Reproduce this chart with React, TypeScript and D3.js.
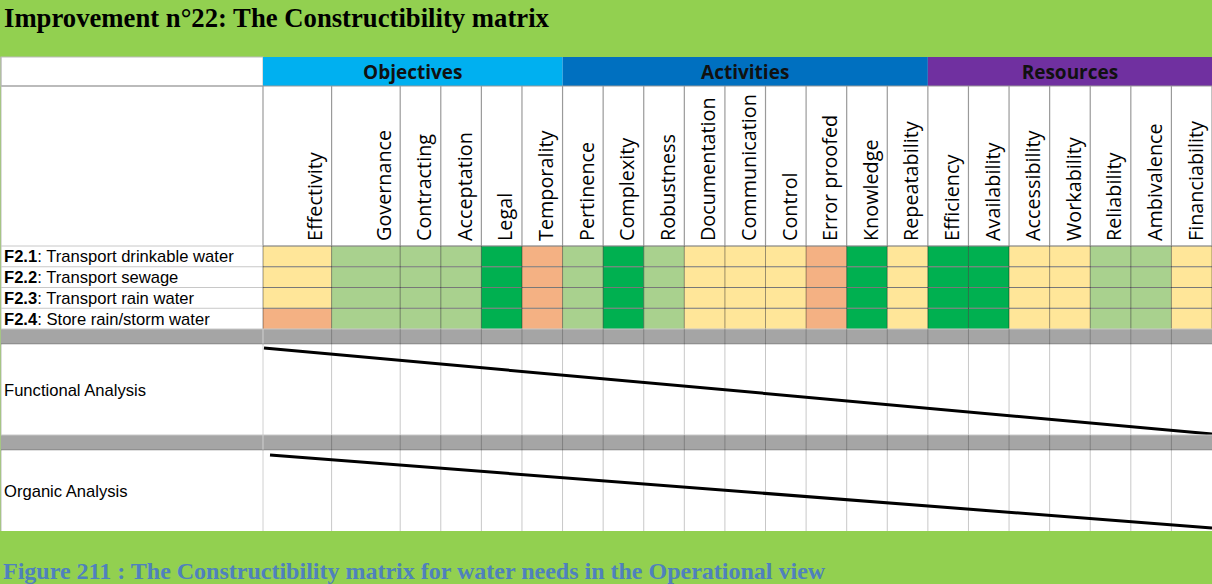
import React, { useEffect } from "react";
import * as d3 from "d3";

// --- data ---
const title = "Improvement n°22: The Constructibility matrix";
const caption =
  "Figure 211 : The Constructibility matrix for water needs in the Operational view";

const groups = ["Objectives", "Activities", "Resources"];
const groupSizes = [6, 9, 7];
const groupColors = ["#00B0F0", "#0070C0", "#7030A0"];

const criteria = [
  "Effectivity", "Governance", "Contracting", "Acceptation", "Legal", "Temporality",
  "Pertinence", "Complexity", "Robustness", "Documentation", "Communication", "Control",
  "Error proofed", "Knowledge", "Repeatability",
  "Efficiency", "Availability", "Accessibility", "Workability", "Reliability",
  "Ambivalence", "Financiability",
];

const functionCodes = ["F2.1", "F2.2", "F2.3", "F2.4"];
const functionNames = [
  "Transport drinkable water",
  "Transport sewage",
  "Transport rain water",
  "Store rain/storm water",
];

// 0 = weak (orange), 1 = medium (yellow), 2 = good (light green), 3 = strong (green)
const levelsF21 = [1, 2, 2, 2, 3, 0, 2, 3, 2, 1, 1, 1, 0, 3, 1, 3, 3, 1, 1, 2, 2, 1];
const levelsF22 = [1, 2, 2, 2, 3, 0, 2, 3, 2, 1, 1, 1, 0, 3, 1, 3, 3, 1, 1, 2, 2, 1];
const levelsF23 = [1, 2, 2, 2, 3, 0, 2, 3, 2, 1, 1, 1, 0, 3, 1, 3, 3, 1, 1, 2, 2, 1];
const levelsF24 = [0, 2, 2, 2, 3, 0, 2, 3, 2, 1, 1, 1, 0, 3, 1, 3, 3, 1, 1, 2, 2, 1];
const levels = [levelsF21, levelsF22, levelsF23, levelsF24];

const analyses = ["Functional Analysis", "Organic Analysis"];

// --- layout ---
const W = 1212;
const H = 584;
const LEFT = 1;
const LABEL_RIGHT = 263;
const RIGHT = 1212;
const HEAD_TOP = 57;
const HEAD_BOT = 86;
const NAMES_BOT = 246;
const DATA_BOT = 329;
const BAR_H = 15;
const SECTION_BOT = [435, 531];
const WIDE = 1.69; // first two criteria columns are wider

const levelColor = d3
  .scaleOrdinal<number, string>()
  .domain([0, 1, 2, 3])
  .range(["#F4B183", "#FFE699", "#A9D18E", "#00B050"]);

const App = () => {
  useEffect(() => {
    document.body.style.margin = "0";
  }, []);

  // cumulative column units -> pixels
  const units = criteria.map((_, i) => (i < 2 ? WIDE : 1));
  const edges = [0, ...d3.cumsum(units)];
  const x = d3
    .scaleLinear()
    .domain([0, edges[edges.length - 1]])
    .range([LABEL_RIGHT, RIGHT]);
  const colX = (i: number) => x(edges[i]);

  const y = d3
    .scaleBand<string>()
    .domain(functionCodes)
    .range([NAMES_BOT, DATA_BOT]);

  const groupStart = [0, ...d3.cumsum(groupSizes)];

  // lower sections
  const sections = analyses.map((name, i) => {
    const top = (i === 0 ? DATA_BOT : SECTION_BOT[0]) + BAR_H;
    const bottom = SECTION_BOT[i];
    return { name, top, bottom, barTop: top - BAR_H };
  });

  const headerFont = "'Open Sans', sans-serif";
  const armFont = "'Liberation Sans', Arial, sans-serif";

  return (
    <svg
      width={W}
      height={H}
      style={{ position: "absolute", left: 0, top: 0, display: "block" }}
    >
      <rect width={W} height={H} fill="#92D050" />
      <text
        x={4}
        y={27}
        fontFamily="'Liberation Serif', 'Times New Roman', serif"
        fontWeight="bold"
        fontSize={26.7}
        fill="#000"
      >
        {title}
      </text>

      {/* table body background */}
      <rect x={LEFT} y={HEAD_TOP} width={RIGHT - LEFT} height={SECTION_BOT[1] - HEAD_TOP} fill="#fff" />

      {/* group header band */}
      <rect x={LEFT} y={HEAD_TOP} width={LABEL_RIGHT - LEFT} height={HEAD_BOT - HEAD_TOP} fill="#fff" stroke="#bbb" />
      {groups.map((g, i) => {
        const x0 = colX(groupStart[i]);
        const x1 = colX(groupStart[i + 1]);
        return (
          <g key={g}>
            <rect x={x0} y={HEAD_TOP} width={x1 - x0} height={HEAD_BOT - HEAD_TOP} fill={groupColors[i]} />
            <text
              x={(x0 + x1) / 2}
              y={(HEAD_TOP + HEAD_BOT) / 2 + 7}
              textAnchor="middle"
              fontFamily={headerFont}
              fontWeight="bold"
              fontSize={19}
              fill="#111"
            >
              {g}
            </text>
          </g>
        );
      })}
      <line x1={LEFT} x2={RIGHT} y1={HEAD_BOT} y2={HEAD_BOT} stroke="#999" />

      {/* rotated criterion names */}
      {criteria.map((c, i) => {
        const tx = colX(i + 1) - 9.5;
        const ty = NAMES_BOT - 5;
        return (
          <text
            key={c}
            transform={`translate(${tx},${ty}) rotate(-90)`}
            fontFamily={headerFont}
            fontSize={19.8}
            fill="#000"
          >
            {c}
          </text>
        );
      })}
      {d3.range(criteria.length + 1).map((i) => (
        <line key={i} x1={colX(i)} x2={colX(i)} y1={HEAD_BOT} y2={NAMES_BOT} stroke="#9a9a9a" strokeWidth={1.2} />
      ))}
      <line x1={LEFT} x2={LEFT} y1={HEAD_TOP} y2={SECTION_BOT[1]} stroke="#bbb" />

      {/* data cells */}
      {functionCodes.map((f, r) =>
        criteria.map((c, i) => (
          <rect
            key={f + c}
            x={colX(i)}
            y={y(f)}
            width={colX(i + 1) - colX(i)}
            height={y.bandwidth()}
            fill={levelColor(levels[r][i])}
          />
        ))
      )}
      {functionCodes.map((f) => (
        <line key={f} x1={LEFT} x2={RIGHT} y1={y(f)} y2={y(f)} stroke="#c8c8c8" />
      ))}
      {functionCodes.map((f) => (
        <line key={f + "d"} x1={LABEL_RIGHT} x2={RIGHT} y1={y(f)} y2={y(f)} stroke="rgba(0,0,0,0.4)" />
      ))}
      {d3.range(criteria.length + 1).map((i) => (
        <line key={"v" + i} x1={colX(i)} x2={colX(i)} y1={NAMES_BOT} y2={DATA_BOT} stroke="rgba(0,0,0,0.4)" />
      ))}
      {functionCodes.map((f, r) => (
        <text
          key={f + "t"}
          x={4}
          y={(y(f) as number) + y.bandwidth() / 2 + 6}
          fontFamily={armFont}
          fontSize={16.6}
          fill="#000"
        >
          <tspan fontWeight="bold">{f}</tspan>: {functionNames[r]}
        </text>
      ))}

      {/* analysis sections */}
      {sections.map((s, i) => (
        <g key={s.name}>
          <rect x={LEFT} y={s.barTop} width={RIGHT - LEFT} height={BAR_H} fill="#A5A5A5" />
          <line x1={LEFT} x2={RIGHT} y1={s.barTop} y2={s.barTop} stroke="#c8c8c8" />
          {d3.range(criteria.length).map((j) => (
            <line
              key={j}
              x1={colX(j)}
              x2={colX(j)}
              y1={s.barTop}
              y2={s.bottom}
              stroke={j === 0 ? "#d0d0d0" : "rgba(0,0,0,0.22)"}
            />
          ))}
          <line x1={LEFT} x2={RIGHT} y1={s.top} y2={s.top} stroke="rgba(0,0,0,0.25)" />
          <line
            x1={colX(0) + (i === 0 ? 1 : 7)}
            y1={s.top + (i === 0 ? 4 : 5)}
            x2={RIGHT}
            y2={s.bottom - (i === 0 ? 1 : 3)}
            stroke="#000"
            strokeWidth={3}
          />
          <text
            x={4}
            y={(s.top + s.bottom) / 2 + 6}
            fontFamily={armFont}
            fontSize={16.6}
            fill="#000"
          >
            {s.name}
          </text>
        </g>
      ))}

      <text
        x={3}
        y={579}
        fontFamily="'Liberation Serif', 'Times New Roman', serif"
        fontWeight="bold"
        fontSize={24}
        fill="#4F81BD"
      >
        {caption}
      </text>
    </svg>
  );
};

export default App;
